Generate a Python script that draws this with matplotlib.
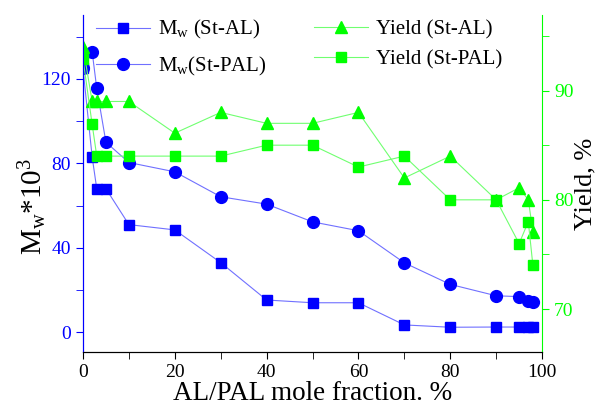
import matplotlib
matplotlib.use('Agg')
import matplotlib.pyplot as plt

plt.rcParams['font.family'] = ['Liberation Serif', 'DejaVu Serif']
plt.rcParams['mathtext.fontset'] = 'custom'
plt.rcParams['mathtext.rm'] = 'Liberation Serif'
plt.rcParams['mathtext.it'] = 'Liberation Serif:italic'

# Mw data (left axis, x10^3)
x_al = [0, 2, 3, 5, 10, 20, 30, 40, 50, 60, 70, 80, 90, 95, 97, 98]
mw_al = [125, 83, 68, 68, 51, 48.5, 33, 15.3, 14, 14, 3.5, 2.4, 2.5, 2.5, 2.5, 2.5]

x_pal = [0, 2, 3, 5, 10, 20, 30, 40, 50, 60, 70, 80, 90, 95, 97, 98]
mw_pal = [125, 132.8, 115.5, 90, 80.4, 76, 64.2, 60.7, 52.3, 48.1, 32.9, 22.7, 17.3, 16.9, 14.8, 14.2]

# Yield data (right axis, %)
yield_al = [94, 89, 89, 89, 89, 86.1, 88, 87, 87, 88, 82, 84, 80, 81.1, 80, 77.1]
yield_pal = [92.9, 86.9, 84, 84, 84, 84, 84, 85, 85, 83, 84, 80, 80, 76, 78, 74]

blue = '#0000ff'
blue_line = '#7070ff'
green = '#00ff00'
green_line = '#70ff70'

fig = plt.figure(figsize=(5.97, 4.09), dpi=100)
ax = fig.add_axes([0.139, 0.140, 0.769, 0.823])
ax2 = ax.twinx()

l1, = ax.plot(x_al, mw_al, color=blue_line, lw=0.8, marker='s', ms=7,
              mfc=blue, mec=blue)
l2, = ax.plot(x_pal, mw_pal, color=blue_line, lw=0.8, marker='o', ms=8.5,
              mfc=blue, mec=blue)
l3, = ax2.plot(x_al, yield_al, color=green_line, lw=0.8, marker='^', ms=8,
               mfc=green, mec=green)
l4, = ax2.plot(x_pal, yield_pal, color=green_line, lw=0.8, marker='s', ms=7,
               mfc=green, mec=green)

ax.set_xlim(0, 100)
ax.set_ylim(-9.2, 150.2)
ax2.set_ylim(66.1, 96.9)

ax.set_xticks([0, 20, 40, 60, 80, 100])
ax.set_xticks([10, 30, 50, 70, 90], minor=True)
ax.set_yticks([0, 40, 80, 120])
ax.set_yticks([20, 60, 100, 140], minor=True)
ax2.set_yticks([70, 80, 90])
ax2.set_yticks([75, 85, 95], minor=True)

for a in (ax, ax2):
    a.spines['top'].set_visible(False)
ax.spines['left'].set_color(blue)
ax2.spines['left'].set_color(blue)
ax2.spines['right'].set_color(green)
ax.spines['right'].set_visible(False)

ax.tick_params(axis='x', which='both', direction='out', length=5, labelsize=14, colors='black')
ax.tick_params(axis='y', which='both', direction='out', length=5, labelsize=14,
               colors=blue)
ax2.tick_params(axis='y', which='both', direction='out', length=5, labelsize=14,
                colors=green)

ax.set_xlabel('AL/PAL mole fraction. %', fontsize=19.5, labelpad=0)
ax.set_ylabel(r'M$_\mathrm{w}$*10$^3$', fontsize=21, labelpad=0)
ax.yaxis.set_label_coords(-0.075, 0.43)
ax2.set_ylabel('Yield, %', fontsize=19, labelpad=1)

leg1 = ax2.legend([l1, l2], [r'M$_\mathrm{w}$ (St-AL)', r'M$_\mathrm{w}$(St-PAL)'],
                  loc='upper left', bbox_to_anchor=(0.01, 1.015), frameon=False,
                  fontsize=15, handlelength=2.6, handletextpad=0.4,
                  labelspacing=0.65, borderaxespad=0)
ax2.add_artist(leg1)
ax2.legend([l3, l4], ['Yield (St-AL)', 'Yield (St-PAL)'],
           loc='upper left', bbox_to_anchor=(0.484, 1.01), frameon=False,
           fontsize=15, handlelength=2.6, handletextpad=0.4,
           labelspacing=0.5, borderaxespad=0)

fig.savefig('out.png', dpi=100)
